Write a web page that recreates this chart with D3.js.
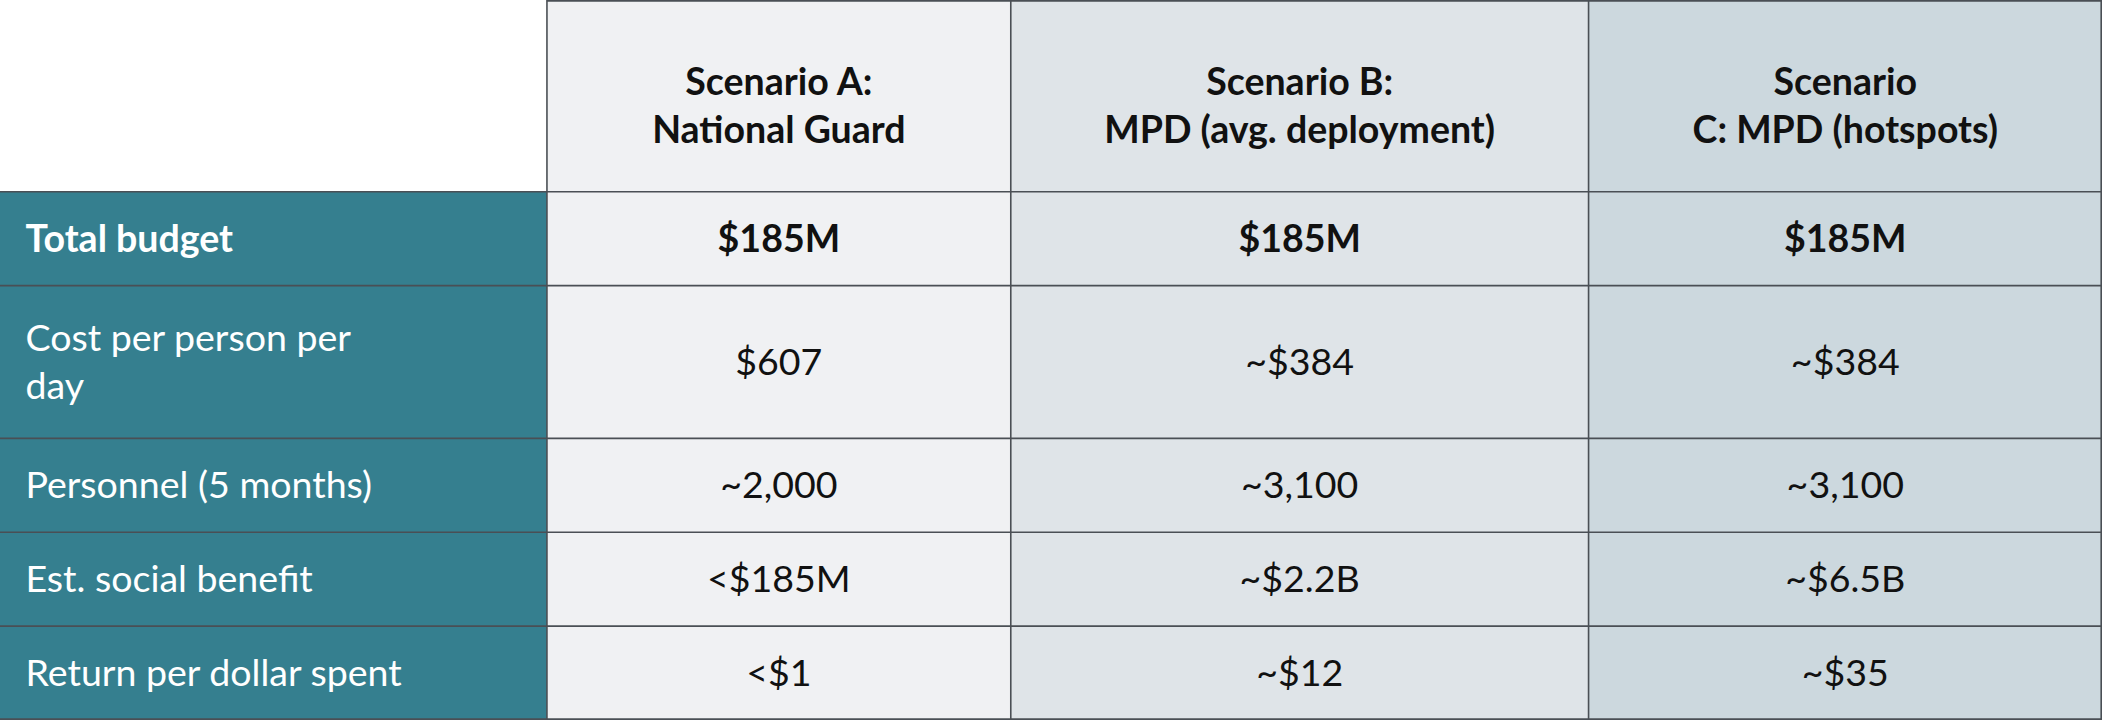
<!DOCTYPE html>
<html><head><meta charset="utf-8">
<script src="https://cdn.jsdelivr.net/npm/d3@7"></script>
<style>body{margin:0;background:#fff}svg{display:block}</style>
</head><body>
<script>
const columns = ["Scenario A:\nNational Guard", "Scenario B:\nMPD (avg. deployment)", "Scenario\nC: MPD (hotspots)"];
const rowLabels = ["Total budget", "Cost per person per\nday", "Personnel (5 months)", "Est. social benefit", "Return per dollar spent"];
const scenarioA = ["$185M", "$607", "~2,000", "<$185M", "<$1"];
const scenarioB = ["$185M", "~$384", "~3,100", "~$2.2B", "~$12"];
const scenarioC = ["$185M", "~$384", "~3,100", "~$6.5B", "~$35"];

const W = 1568, H = 537;
const colEdges = [0, 408, 754, 1185, 1568];
const rowEdges = [0, 143, 213, 327, 397, 467, 537];
const colBg = ["#f0f1f3", "#dfe4e8", "#ccd8de"];
const teal = "#357f8f", border = "#4a4f55";
const font = "Lato, 'Noto Sans', sans-serif";

const svg = d3.select("body").append("svg")
  .attr("width", 2102).attr("height", 720).attr("viewBox", `0 0 ${W} ${H}`);

const x = d3.scaleOrdinal().domain(d3.range(5)).range(colEdges);
const y = d3.scaleOrdinal().domain(d3.range(7)).range(rowEdges);

const data = [scenarioA, scenarioB, scenarioC];

function multiText(g, txt, cx, cy, anchor, size, weight, fill, lh) {
  const lines = txt.split("\n");
  const t = g.append("text").attr("text-anchor", anchor).attr("font-family", font)
    .attr("font-size", size).attr("font-weight", weight).attr("fill", fill);
  lines.forEach((l, i) => {
    t.append("tspan").attr("x", cx)
      .attr("y", cy + (i - (lines.length - 1) / 2) * lh).attr("dy", "0.35em").text(l);
  });
}

// column backgrounds + header
columns.forEach((c, j) => {
  svg.append("rect").attr("x", x(j + 1)).attr("y", 0)
    .attr("width", x(j + 2) - x(j + 1)).attr("height", H).attr("fill", colBg[j]);
  multiText(svg, c, (x(j + 1) + x(j + 2)) / 2, 79, "middle", 28, 700, "#111", 36);
});

// row label cells
rowLabels.forEach((r, i) => {
  svg.append("rect").attr("x", 0).attr("y", y(i + 1))
    .attr("width", x(1)).attr("height", y(i + 2) - y(i + 1)).attr("fill", teal);
  multiText(svg, r, 19, (y(i + 1) + y(i + 2)) / 2, "start", 28, i === 0 ? 700 : 400, "#fff", 36);
  data.forEach((col, j) => {
    multiText(svg, col[i], (x(j + 1) + x(j + 2)) / 2, (y(i + 1) + y(i + 2)) / 2,
      "middle", 28, i === 0 ? 700 : 400, "#111", 36);
  });
});

// grid lines
const g = svg.append("g").attr("stroke", border).attr("stroke-width", 1.2);
d3.range(1, 5).forEach(j => g.append("line").attr("x1", x(j)).attr("x2", x(j))
  .attr("y1", 0).attr("y2", H));
d3.range(1, 6).forEach(i => g.append("line").attr("x1", 0).attr("x2", W)
  .attr("y1", y(i)).attr("y2", y(i)));
g.append("line").attr("x1", x(1)).attr("x2", W).attr("y1", 0.6).attr("y2", 0.6);
g.append("line").attr("x1", 0).attr("x2", W).attr("y1", H - 0.6).attr("y2", H - 0.6);
g.append("line").attr("x1", W - 0.6).attr("x2", W - 0.6).attr("y1", 0).attr("y2", H);
</script>
</body></html>
